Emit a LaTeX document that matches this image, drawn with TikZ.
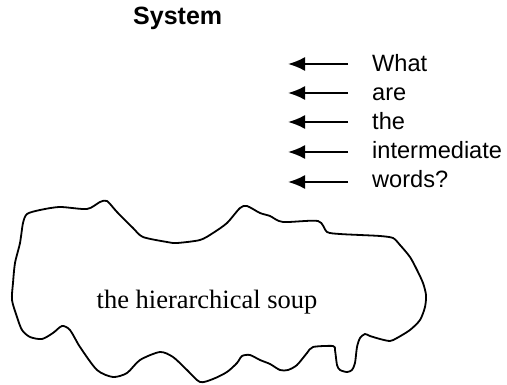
\documentclass[tikz,border=0pt]{standalone}
\usepackage{fontspec}
\setmainfont{Liberation Serif}
\setsansfont{Liberation Sans}
\usetikzlibrary{arrows.meta}

\tikzset{
	word/.style={anchor=base west, inner sep=0pt, font=\sffamily\fontsize{23.6}{29}\selectfont},
	ask/.style={-{Latex[length=17pt,width=14pt]}, line width=2pt}
}

\begin{document}
\begin{tikzpicture}[x=1pt, y=-1pt]
	\useasboundingbox (0,0) rectangle (507,385);

	\node[anchor=base west, inner sep=0pt, font=\sffamily\bfseries\fontsize{25}{30}\selectfont] (title) at (133,25) {System};

	% the question, one word per line, each with its arrow
	\foreach \w/\y/\a [count=\i] in {What/72/64, are/101/93, the/130/122, intermediate/159/152, words?/188/182}{
		\node[word] (w\i) at (372,\y) {\w};
		\coordinate (tail\i) at (348,\a);
		\coordinate (tip\i) at (288,\a);
		\draw[ask] (tail\i) -- (tip\i);
	}

	% the soup
	\draw[line width=1.8pt, line join=round] plot[smooth cycle, tension=0.45] coordinates {
		(27,214) (40,210) (60,207) (87,209) (100,202) (107,201) (117,212) (133,228) (143,237)
		(167,242) (177,243) (200,240) (213,233) (227,223) (240,208) (247,206) (260,213) (270,216)
		(283,222) (318,221) (327,232) (340,234) (360,235) (380,236) (393,238) (400,245) (410,257)
		(417,270) (423,283) (426,295) (425,307) (420,320) (410,330) (397,338) (390,341) (380,339)
		(370,336) (365,334) (360,338) (357,347) (355,363) (352,370) (347,372) (340,370) (337,365)
		(335,350) (333,346) (313,347) (307,353) (297,365) (288,370) (280,370) (270,364) (260,360)
		(250,355) (242,356) (237,363) (227,372) (213,379) (200,382) (187,370) (173,357) (160,352)
		(140,360) (127,373) (113,377) (97,370) (80,347) (70,330) (62,326) (53,333) (42,339)
		(30,337) (22,330) (17,317) (12,300) (13,283) (15,263) (20,243) (23,223)};

	\node[anchor=base, inner sep=0pt, font=\fontsize{26.5}{30}\selectfont] (soup) at (207,309) {the hierarchical soup};
\end{tikzpicture}
\end{document}
